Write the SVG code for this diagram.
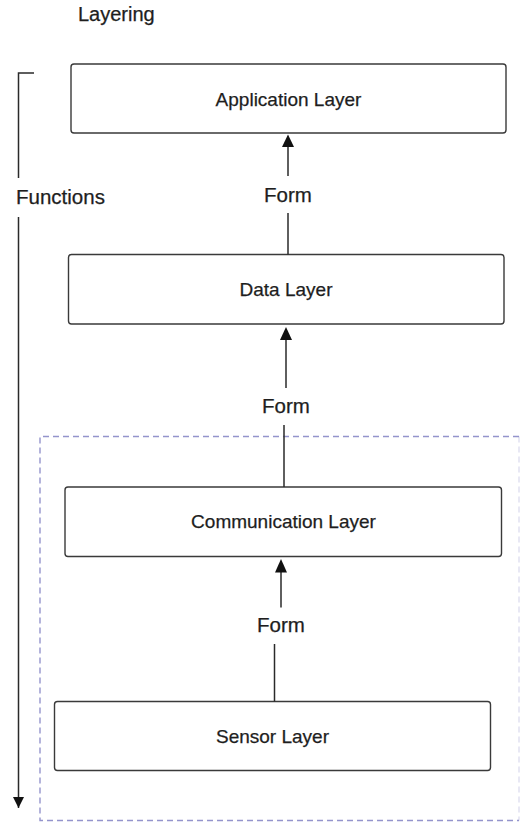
<svg xmlns="http://www.w3.org/2000/svg" width="521" height="823" viewBox="0 0 521 823">
  <style>
    text { font-family: "Liberation Sans", Arial, Helvetica, sans-serif; fill: #1e1e1e; stroke: #1e1e1e; stroke-width: 0.25; }
    .lbl { font-size: 19px; text-anchor: middle; }
    .form { font-size: 20.5px; text-anchor: middle; }
    .box { fill: #ffffff; stroke: #3a3a3a; stroke-width: 1.4; }
    .wire { fill: none; stroke: #2a2a2a; stroke-width: 1.5; }
    .group { fill: none; stroke: #9494cc; stroke-width: 1.4; stroke-dasharray: 6 4; }
  </style>
  <defs>
    <marker id="headDown" viewBox="0 0 11 11" refX="5.5" refY="11" markerWidth="11" markerHeight="11" markerUnits="userSpaceOnUse">
      <path d="M0,0 L11,0 L5.5,11 Z" fill="#111"/>
    </marker>
  </defs>

  <rect width="521" height="823" fill="#ffffff"/>

  <text x="78" y="21" style="font-size:20px">Layering</text>

  <!-- dashed region around the lower two layers -->
  <g id="lower-group">
    <path class="group" d="M519,436.5 H40 V820.5 H519"/>
    <line x1="519" y1="436.5" x2="519" y2="820.5" class="group" opacity="0.3"/>
  </g>

  <!-- functions axis -->
  <g id="functions-axis">
    <path class="wire" d="M34,73 H18.5 V178"/>
    <line class="wire" x1="18.5" y1="217" x2="18.5" y2="808" marker-end="url(#headDown)"/>
    <text x="16" y="204" style="font-size:20.5px">Functions</text>
  </g>

  <g id="application-layer">
    <rect class="box" x="71" y="64" width="435" height="69" rx="3"/>
    <text class="lbl" x="288.5" y="105.5">Application Layer</text>
  </g>

  <g id="data-layer">
    <rect class="box" x="68.5" y="254.5" width="435.5" height="69.5" rx="3"/>
    <text class="lbl" x="286" y="296">Data Layer</text>
  </g>

  <g id="communication-layer">
    <rect class="box" x="65" y="487" width="436.5" height="69.5" rx="3"/>
    <text class="lbl" x="283.5" y="528">Communication Layer</text>
  </g>

  <g id="sensor-layer">
    <rect class="box" x="54.5" y="701.5" width="436" height="69" rx="3"/>
    <text class="lbl" x="272.5" y="743">Sensor Layer</text>
  </g>

  <g id="connectors">
    <!-- data to application -->
    <line class="wire" x1="288" y1="176" x2="288" y2="146"/>
    <path d="M282,147 L288,134.5 L294,147 Z" fill="#111"/>
    <line class="wire" x1="288" y1="213" x2="288" y2="254.5"/>
    <text class="form" x="288" y="201.5">Form</text>

    <!-- communication to data -->
    <line class="wire" x1="286" y1="388" x2="286" y2="339"/>
    <path d="M280,340 L286,327 L292,340 Z" fill="#111"/>
    <line class="wire" x1="284" y1="425" x2="284" y2="487"/>
    <text class="form" x="286" y="413">Form</text>

    <!-- sensor to communication -->
    <line class="wire" x1="281" y1="607.5" x2="281" y2="571"/>
    <path d="M275,572.5 L281,559 L287,572.5 Z" fill="#111"/>
    <line class="wire" x1="274.5" y1="644" x2="274.5" y2="701.5"/>
    <text class="form" x="281" y="632">Form</text>
  </g>
</svg>
